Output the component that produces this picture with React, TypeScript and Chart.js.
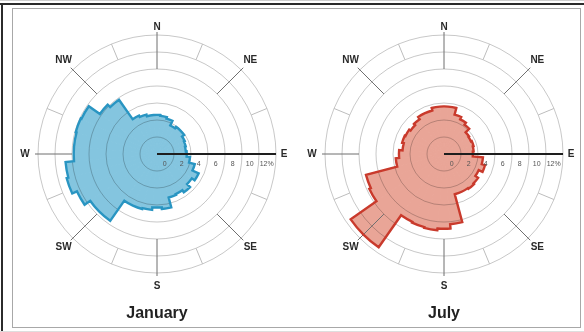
import React, { useEffect, useRef } from 'react';
import { Chart, registerables } from 'chart.js';

Chart.register(...registerables);

// ---- data ----
const sectorLabels = [
  '0°', '10°', '20°', '30°', '40°', '50°', '60°', '70°', '80°',
  '90°', '100°', '110°', '120°', '130°', '140°', '150°', '160°', '170°',
  '180°', '190°', '200°', '210°', '220°', '230°', '240°', '250°', '260°',
  '270°', '280°', '290°', '300°', '310°', '320°', '330°', '340°', '350°',
];

const januaryFreq = [
  2.6, 2.5, 2.3, 1.7, 1.9, 1.9, 1.6, 1.5, 1.4,
  1.5, 1.9, 2.6, 3.4, 3.0, 3.5, 3.2, 3.3, 4.5,
  4.3, 4.6, 4.7, 4.7, 7.6, 7.6, 8.4, 9.0, 8.8,
  7.8, 7.8, 7.9, 7.8, 6.2, 5.8, 3.0, 2.8, 2.6,
];

const julyFreq = [
  3.6, 3.6, 2.8, 2.5, 2.2, 1.6, 1.5, 1.6, 1.5,
  1.4, 2.6, 3.0, 2.5, 2.9, 3.0, 2.9, 2.9, 6.3,
  6.8, 7.0, 6.9, 6.8, 11.4, 11.4, 7.7, 7.5, 3.7,
  3.3, 2.9, 3.1, 3.0, 2.8, 3.0, 3.3, 3.3, 3.6,
];

const ringValues = [0, 2, 4, 6, 8, 10, 12];
const ringLabels = ['0', '2', '4', '6', '8', '10', '12%'];

const compassNames = ['N', 'NE', 'E', 'SE', 'S', 'SW', 'W', 'NW'];
const compassBearings = [0, 45, 90, 135, 180, 225, 270, 315];
const minorBearings = [22.5, 67.5, 112.5, 157.5, 202.5, 247.5, 292.5, 337.5];

const FONT = '"Liberation Sans", Arial, Helvetica, sans-serif';
Chart.defaults.font.family = FONT;

const toRad = (deg: number) => ((deg - 90) * Math.PI) / 180;

const roseDecor = {
  id: 'roseDecor',
  afterDraw(chart: any, _args: any, opts: any) {
    const scale = chart.scales.r;
    const ctx = chart.ctx as CanvasRenderingContext2D;
    const xc = scale.xCenter;
    const yc = scale.yCenter;
    const rOf = (v: number) => scale.getDistanceFromCenterForValue(v);
    const rMax = rOf(12);

    ctx.save();
    // main compass lines, from ring 8 to just beyond the outer ring
    ctx.strokeStyle = '#6f6f6f';
    ctx.lineWidth = 1;
    compassBearings.forEach((b) => {
      if (b === 90) return;
      const a = toRad(b);
      ctx.beginPath();
      ctx.moveTo(xc + rOf(8) * Math.cos(a), yc + rOf(8) * Math.sin(a));
      ctx.lineTo(xc + (rMax + 3) * Math.cos(a), yc + (rMax + 3) * Math.sin(a));
      ctx.stroke();
    });
    // minor spokes between rings 10 and 12
    ctx.strokeStyle = '#bdbdbd';
    minorBearings.forEach((b) => {
      const a = toRad(b);
      ctx.beginPath();
      ctx.moveTo(xc + rOf(10) * Math.cos(a), yc + rOf(10) * Math.sin(a));
      ctx.lineTo(xc + rMax * Math.cos(a), yc + rMax * Math.sin(a));
      ctx.stroke();
    });

    // outline of the rose
    const meta = chart.getDatasetMeta(0);
    ctx.beginPath();
    meta.data.forEach((el: any) => {
      const p = el.getProps(['startAngle', 'endAngle', 'outerRadius'], true);
      ctx.arc(xc, yc, p.outerRadius, p.startAngle, p.endAngle);
    });
    ctx.closePath();
    ctx.lineJoin = 'miter';
    ctx.lineWidth = opts.outlineWidth;
    ctx.strokeStyle = opts.outlineColor;
    ctx.stroke();

    // east scale axis
    ctx.beginPath();
    ctx.strokeStyle = '#1e1e1e';
    ctx.lineWidth = 2;
    ctx.moveTo(xc, yc);
    ctx.lineTo(xc + rMax, yc);
    ctx.stroke();

    // tick labels along the east axis
    ctx.fillStyle = '#555';
    ctx.font = `7px ${FONT}`;
    ctx.textAlign = 'center';
    ctx.textBaseline = 'middle';
    ringValues.forEach((v, i) => {
      ctx.fillText(ringLabels[i], xc + rOf(v - 1.1), yc + 10);
    });

    // compass labels
    ctx.fillStyle = '#2a2a2a';
    ctx.font = `bold 10px ${FONT}`;
    compassNames.forEach((name, i) => {
      const b = compassBearings[i];
      const a = toRad(b);
      let r = rMax + 13;
      if (b === 0 || b === 90) r = rMax + 8;
      const x = xc + r * Math.cos(a);
      const y = yc + r * Math.sin(a);
      ctx.fillText(name, x, y);
    });
    ctx.restore();
  },
};

type RoseProps = {
  values: number[];
  fill: string;
  stroke: string;
  title: string;
  left: number;
  padLeft: number;
  padRight: number;
};

function Rose({ values, fill, stroke, title, left, padLeft, padRight }: RoseProps) {
  const ref = useRef<HTMLCanvasElement | null>(null);
  useEffect(() => {
    if (!ref.current) return;
    const chart = new Chart(ref.current, {
      type: 'polarArea',
      data: {
        labels: sectorLabels,
        datasets: [
          {
            data: values,
            backgroundColor: fill,
            borderColor: fill,
            borderWidth: 1,
          },
        ],
      },
      options: {
        animation: false,
        responsive: false,
        maintainAspectRatio: false,
        layout: { padding: { left: padLeft, right: padRight, top: 35, bottom: 9 } },
        scales: {
          r: {
            min: -2,
            max: 12,
            startAngle: -5,
            ticks: { display: false, stepSize: 2 },
            grid: {
              circular: true,
              z: 1,
              lineWidth: 1,
              color: (c: any) => (c.tick && c.tick.value < 0 ? 'rgba(0,0,0,0)' : 'rgba(0,0,0,0.22)'),
            },
            angleLines: { display: false },
            pointLabels: { display: false },
          },
        },
        plugins: {
          legend: { display: false },
          tooltip: { enabled: false },
          title: {
            display: true,
            text: title,
            position: 'bottom',
            color: '#222',
            font: { size: 16, weight: 'bold', family: FONT, lineHeight: 1.2 },
            padding: { top: 30, bottom: 0 },
          },
          roseDecor: { outlineColor: stroke, outlineWidth: 2.4 },
        } as any,
      },
      plugins: [roseDecor],
    });
    return () => chart.destroy();
  }, [values, fill, stroke, title, padLeft, padRight]);

  return (
    <canvas
      ref={ref}
      width={292}
      height={332}
      style={{ position: 'absolute', left, top: 0, width: 292, height: 332 }}
    />
  );
}

export default function App() {
  return (
    <div
      style={{
        position: 'fixed',
        left: 0,
        top: 0,
        width: 584,
        height: 332,
        background: '#fff',
        overflow: 'hidden',
      }}
    >
      <div style={{ position: 'absolute', left: 0, top: 0, width: 584, height: 1, background: '#cfcfcf' }} />
      <div style={{ position: 'absolute', left: 0, top: 3, width: 584, height: 2, background: '#2b2b2b' }} />
      <div style={{ position: 'absolute', left: 1, top: 3, width: 2, height: 329, background: '#2b2b2b' }} />
      <div
        style={{
          position: 'absolute',
          left: 12,
          top: 8,
          width: 567,
          height: 318,
          border: '1px solid #a8a8a8',
        }}
      />
      <div style={{ position: 'absolute', left: 0, top: 331, width: 584, height: 1, background: '#dedede' }} />
      <Rose values={januaryFreq} fill="#84c5df" stroke="#2995c2" title="January" left={0} padLeft={38} padRight={16} />
      <Rose values={julyFreq} fill="#e9a597" stroke="#c93a2c" title="July" left={292} padLeft={33} padRight={21} />
    </div>
  );
}
